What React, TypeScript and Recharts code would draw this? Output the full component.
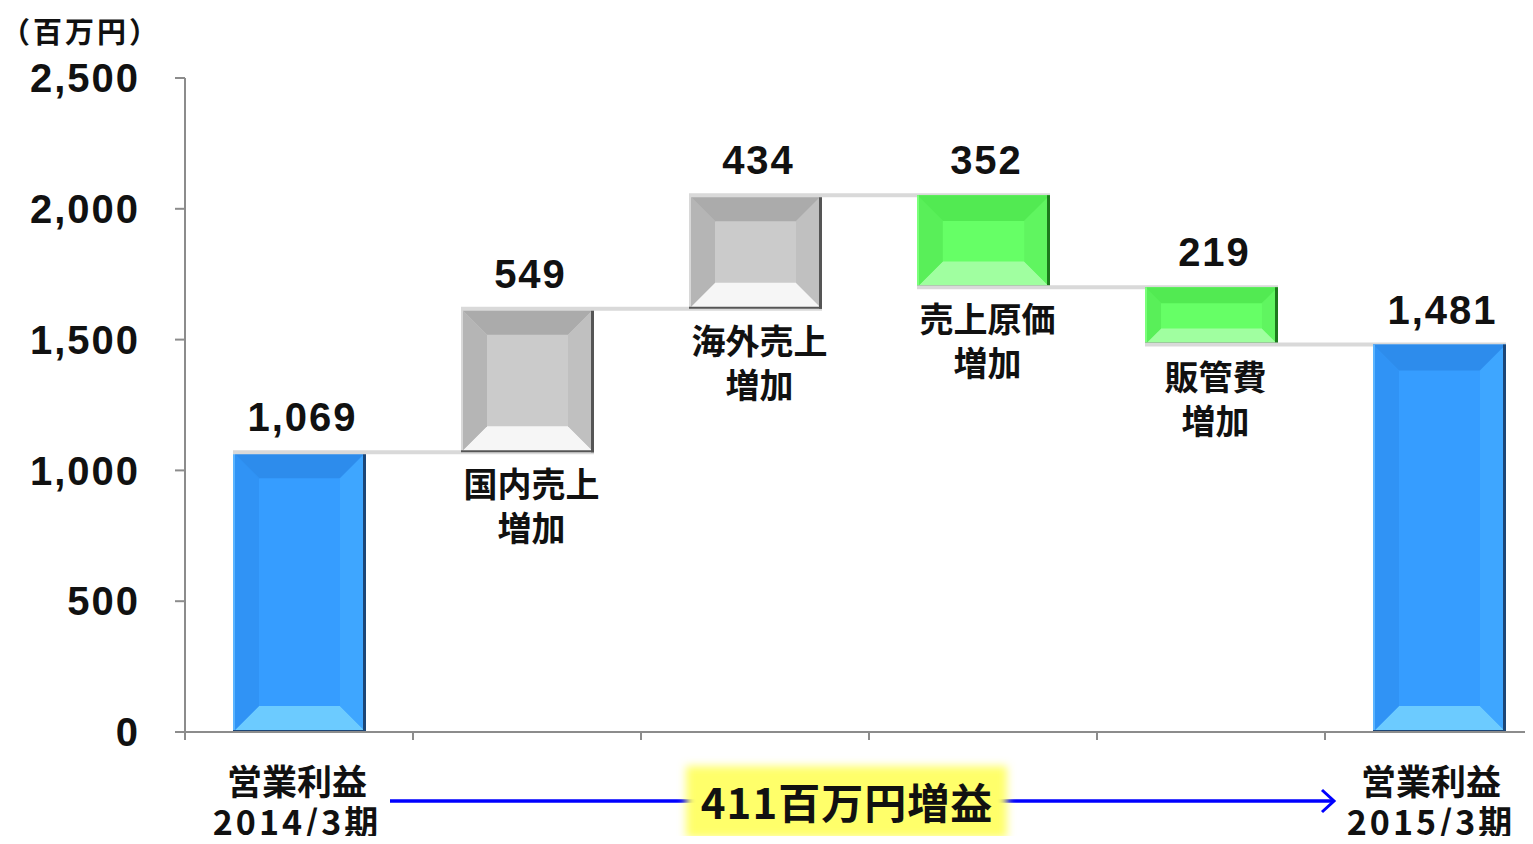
import React from 'react';
import { BarChart, Bar, XAxis, YAxis, LabelList } from 'recharts';

// ---- data ----
const categories = ['営業利益2014/3期', '国内売上増加', '海外売上増加', '売上原価増加', '販管費増加', '営業利益2015/3期'];
const labelLine1 = ['営業利益', '国内売上', '海外売上', '売上原価', '販管費', '営業利益'];
const labelLine2 = ['2014/3期', '増加', '増加', '増加', '増加', '2015/3期'];
const changes = [1069, 549, 434, -352, -219, 1481];
const kinds = ['total', 'up', 'up', 'down', 'down', 'total'];
const colorKeys = ['blue', 'gray', 'gray', 'green', 'green', 'blue'];
const valueLabels = ['1,069', '549', '434', '352', '219', '1,481'];
const yTicks = [0, 500, 1000, 1500, 2000, 2500];
const unitLabel = '（百万円）';
const summaryLabel = '411百万円増益';

// ---- layout ----
const CHART_W = 1560;
const CHART_H = 844;
const M_TOP = 78;
const M_RIGHT = 7;
const Y_W = 185;
const X_H = 112;
const STEP = (CHART_W - M_RIGHT - Y_W) / categories.length;

const NUM_FONT = "'Liberation Sans', Arial, sans-serif";
const CJK_FONT = "'Noto Sans CJK JP', sans-serif";

const palettes: Record<string, any> = {
  blue: { mid: '#369dff', top: '#2d8cec', left: '#3093f5', right: '#3ea6ff', bottom: '#6ccbff', border: '#1c4677', edge: '#5ab4ff' },
  gray: { mid: '#cbcbcb', top: '#ababab', left: '#b5b5b5', right: '#c0c0c0', bottom: '#f6f6f6', border: '#555555', edge: '#d8d8d8' },
  green: { mid: '#66ff66', top: '#52ea52', left: '#59ef59', right: '#60f560', bottom: '#a0ffa0', border: '#1c7a1c', edge: '#7aff7a' },
};

let level = 0;
const data = categories.map((name, i) => {
  const v = changes[i];
  let base = 0;
  let size = 0;
  if (kinds[i] === 'total') {
    base = 0;
    size = v;
    level = v;
  } else if (kinds[i] === 'up') {
    base = level;
    size = v;
    level += v;
  } else {
    level += v;
    base = level;
    size = -v;
  }
  return { name, base, size };
});

const BevelBar = (props: any) => {
  const { x, y, width: w, height: h, index } = props;
  if (w == null || h == null) return null;
  const p = palettes[colorKeys[index]];
  const b = Math.min(26, h * 0.28, w * 0.2);
  const kind = kinds[index];
  const endY = kind === 'down' ? y + h : y;
  return (
    <g>
      <rect x={x} y={y} width={w} height={h} fill={p.mid} />
      <polygon points={`${x},${y} ${x + w},${y} ${x + w - b},${y + b} ${x + b},${y + b}`} fill={p.top} />
      <polygon points={`${x},${y + h} ${x + w},${y + h} ${x + w - b},${y + h - b} ${x + b},${y + h - b}`} fill={p.bottom} />
      <polygon points={`${x},${y} ${x + b},${y + b} ${x + b},${y + h - b} ${x},${y + h}`} fill={p.left} />
      <polygon points={`${x + w},${y} ${x + w - b},${y + b} ${x + w - b},${y + h - b} ${x + w},${y + h}`} fill={p.right} />
      <line x1={x + 1} y1={y} x2={x + 1} y2={y + h} stroke={p.edge} strokeWidth={2} />
      <line x1={x + w - 1.5} y1={y} x2={x + w - 1.5} y2={y + h} stroke={p.border} strokeWidth={3} />
      <line x1={x} y1={y + h - 1} x2={x + w} y2={y + h - 1} stroke={p.border} strokeWidth={2} />
      {index < categories.length - 1 && (
        <line x1={x} y1={endY} x2={x + STEP + w} y2={endY} stroke="#d9d9d9" strokeWidth={4} />
      )}
    </g>
  );
};

const ValueLabel = (props: any) => {
  const { x, y, width, index } = props;
  return (
    <text
      x={x + width / 2 + 3}
      y={y - 21}
      textAnchor="middle"
      fontSize={40}
      fontWeight="bold"
      fontFamily={NUM_FONT}
      letterSpacing={2}
      fill="#111"
    >
      {valueLabels[index]}
    </text>
  );
};

const CatLabel = (props: any) => {
  const { x, y, width, height, index } = props;
  if (kinds[index] === 'total') return null;
  const cx = x + width / 2 + 4;
  const bottom = y + height;
  return (
    <g>
      <text x={cx} y={bottom + 45} textAnchor="middle" fontSize={34} fontWeight="bold" fontFamily={CJK_FONT} fill="#111">
        {labelLine1[index]}
      </text>
      <text x={cx} y={bottom + 89} textAnchor="middle" fontSize={34} fontWeight="bold" fontFamily={CJK_FONT} fill="#111">
        {labelLine2[index]}
      </text>
    </g>
  );
};

const XTick = (props: any) => {
  const { x, y, index } = props;
  const showText = kinds[index] === 'total';
  const dx = index === 0 ? -2 : -8;
  return (
    <g>
      <line x1={x - STEP / 2} y1={y} x2={x - STEP / 2} y2={y + 8} stroke="#8c8c8c" strokeWidth={2} />
      {showText && (
        <g>
          <text x={x + dx} y={y + 63} textAnchor="middle" fontSize={35} fontWeight="bold" fontFamily={CJK_FONT} fill="#111">
            {labelLine1[index]}
          </text>
          <text x={x + dx} y={y + 103} textAnchor="middle" fontSize={34} fontWeight="bold" fontFamily={CJK_FONT} letterSpacing={3} fill="#111">
            {labelLine2[index]}
          </text>
        </g>
      )}
    </g>
  );
};

export default function App() {
  return (
    <div style={{ position: 'relative', width: 1533, height: 844, margin: -8, overflow: 'hidden', background: '#fff' }}>
      <div
        style={
          {
            position: 'absolute',
            left: 1,
            top: 12,
            fontSize: 29,
            fontWeight: 'bold',
            fontFamily: CJK_FONT,
            color: '#111',
            lineHeight: '36px',
            letterSpacing: 3,
            zIndex: 2,
            whiteSpace: 'nowrap',
          } as any
        }
      >
        {unitLabel}
      </div>
      <div style={{ position: 'absolute', left: 0, top: 0, width: CHART_W, height: CHART_H }}>
        <BarChart width={CHART_W} height={CHART_H} data={data} margin={{ top: M_TOP, right: M_RIGHT, left: 0, bottom: 0 }}>
          <YAxis
            width={Y_W}
            domain={[0, 2500]}
            ticks={yTicks}
            interval={0}
            axisLine={{ stroke: '#8c8c8c', strokeWidth: 2 }}
            tickLine={{ stroke: '#8c8c8c', strokeWidth: 2 }}
            tickSize={10}
            tickMargin={35}
            tickFormatter={(v: number) => v.toLocaleString('en-US')}
            tick={{ fontSize: 40, fontWeight: 'bold', fill: '#111', fontFamily: NUM_FONT, letterSpacing: 2 }}
          />
          <XAxis
            dataKey="name"
            height={X_H}
            interval={0}
            axisLine={{ stroke: '#8c8c8c', strokeWidth: 2 }}
            tickLine={false}
            tickSize={0}
            tickMargin={0}
            tick={<XTick />}
          />
          <Bar dataKey="base" stackId="w" fill="transparent" isAnimationActive={false} barSize={133} />
          <Bar dataKey="size" stackId="w" shape={<BevelBar />} isAnimationActive={false} barSize={133}>
            <LabelList dataKey="size" content={<ValueLabel />} />
            <LabelList dataKey="size" content={<CatLabel />} />
          </Bar>
        </BarChart>
      </div>
      <svg width={1533} height={844} style={{ position: 'absolute', left: 0, top: 0, pointerEvents: 'none' }}>
        <defs>
          <filter id="soft" x="-20%" y="-30%" width="140%" height="160%">
            <feGaussianBlur stdDeviation={4} />
          </filter>
        </defs>
        <line x1={390} y1={801} x2={1333} y2={801} stroke="#0000ff" strokeWidth={3.5} />
        <polyline points="1322,790 1334,801 1322,812" fill="none" stroke="#0000ff" strokeWidth={3} />
        <rect x={686} y={766} width={321} height={72} fill="#ffff6a" filter="url(#soft)" />
        <text x={847} y={819} textAnchor="middle" fontSize={42} fontWeight="bold" fontFamily={CJK_FONT} fill="#111" letterSpacing={1}>
          {summaryLabel}
        </text>
      </svg>
    </div>
  );
}
